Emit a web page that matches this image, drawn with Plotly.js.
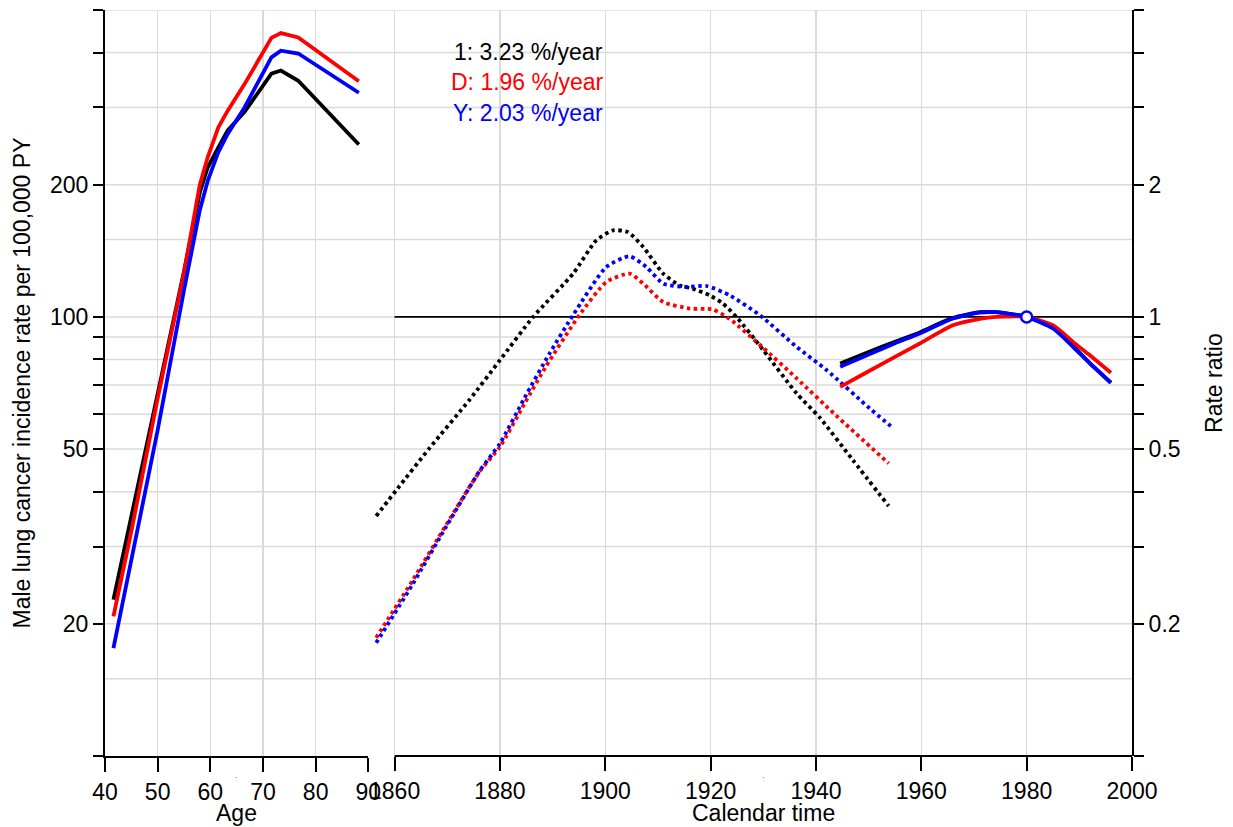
<!DOCTYPE html>
<html>
<head>
<meta charset="utf-8">
<script src="https://cdn.plot.ly/plotly-3.0.1.min.js"></script>
<style>html,body{margin:0;padding:0;background:#fff;}#chart{width:1233px;height:827px;}</style>
</head>
<body>
<div id="chart"></div>
<script>
// ---------- data ----------
const ages      = [41.6, 45, 50, 55, 58, 59.5, 61.5, 63.3, 66.5, 71.6, 73.4, 76.7, 88.2];
const ageRate1  = [22.7, 35.1, 66.3, 127, 192, 219, 243, 266, 293, 358, 364, 345, 247];
const ageRateD  = [20.8, 32.5, 65.2, 126, 200, 231, 270, 295, 339, 432, 443, 433, 344];
const ageRateY  = [17.6, 27.7, 55.2, 115, 175, 204, 237, 261, 300, 390, 404, 398, 324];

const perYears  = [1944.6, 1950, 1955, 1959.7, 1966, 1971.1, 1974.2, 1980, 1985, 1988.8, 1992, 1996];
const perRR1    = [0.783, 0.832, 0.878, 0.922, 0.995, 1.025, 1.025, 1.0, 0.945, 0.858, 0.785, 0.708];
const perRRD    = [0.693, 0.752, 0.811, 0.870, 0.957, 0.990, 1.000, 1.0, 0.957, 0.877, 0.818, 0.746];
const perRRY    = [0.770, 0.821, 0.871, 0.917, 0.992, 1.023, 1.025, 1.0, 0.941, 0.855, 0.784, 0.708];

const cohYears1 = [1856.5, 1860.6, 1866.6, 1874.2, 1880, 1886.3, 1893.9, 1898.3, 1901.5, 1904.3, 1907.2, 1911.0, 1914.1, 1916.6, 1919.8, 1922.3, 1924.9, 1930.0, 1936.3, 1940.7, 1947.0, 1953.8];
const cohRR1    = [0.352, 0.407, 0.502, 0.647, 0.797, 1.0, 1.255, 1.494, 1.575, 1.56, 1.443, 1.255, 1.180, 1.160, 1.120, 1.073, 1.0, 0.840, 0.670, 0.590, 0.472, 0.371];
const cohYearsD = [1856.5, 1863.5, 1869.8, 1876.1, 1880, 1884.7, 1888.7, 1895.1, 1900.2, 1904.6, 1907.2, 1911.0, 1916.1, 1920.4, 1923.6, 1930, 1936.3, 1943.9, 1953.8];
const cohRRD    = [0.186, 0.252, 0.336, 0.444, 0.506, 0.636, 0.770, 1.01, 1.201, 1.255, 1.191, 1.081, 1.045, 1.04, 0.99, 0.850, 0.725, 0.595, 0.464];
const cohYearsY = [1856.5, 1863.5, 1869.8, 1876.1, 1880, 1884.7, 1889.4, 1893.9, 1900.2, 1904.6, 1907.8, 1911.0, 1915.4, 1919.2, 1923.6, 1929.3, 1936.3, 1942, 1950.2, 1954.2];
const cohRRY    = [0.181, 0.247, 0.333, 0.445, 0.515, 0.655, 0.825, 1.01, 1.299, 1.374, 1.299, 1.191, 1.170, 1.176, 1.120, 1.01, 0.855, 0.757, 0.619, 0.564];

const refYear = [1980];
const refRR   = [1];

const ageTicks = [40, 50, 60, 70, 80, 90];
const calTicks = [1860, 1880, 1900, 1920, 1940, 1960, 1980, 2000];
const rateTickVals = [10, 20, 30, 40, 50, 60, 70, 80, 90, 100, 200, 300, 400, 500];
const rateTickText = ['', '20', '', '', '50', '', '', '', '', '100', '200', '', '', ''];
const rrTickVals = [0.1, 0.2, 0.3, 0.4, 0.5, 0.6, 0.7, 0.8, 0.9, 1, 2, 3, 4, 5];
const rrTickText = ['', '0.2', '', '', '0.5', '', '', '', '', '1', '2', '', '', ''];
const hGrid = [15, 20, 30, 40, 50, 60, 70, 80, 90, 100, 150, 200, 300, 400, 500];

const labels = ['1: 3.23 %/year', 'D: 1.96 %/year', 'Y: 2.03 %/year'];
const cols = ['#000000', '#ff0000', '#0000ff'];

// ---------- traces ----------
const FONT = 'Liberation Sans, Arial, sans-serif';
const traces = [];
[ageRate1, ageRateD, ageRateY].forEach((v, i) => traces.push({
  x: ages, y: v, xaxis: 'x', yaxis: 'y', mode: 'lines', type: 'scatter',
  line: {color: cols[i], width: 3.8}, hoverinfo: 'skip', showlegend: false
}));
[[cohYears1, cohRR1], [cohYearsD, cohRRD], [cohYearsY, cohRRY]].forEach((p, i) => traces.push({
  x: p[0], y: p[1], xaxis: 'x2', yaxis: 'y2', mode: 'lines', type: 'scatter',
  line: {color: cols[i], width: 3.8, dash: '3.5px,3.5px', shape: 'spline', smoothing: 0.6}, hoverinfo: 'skip', showlegend: false
}));
[perRR1, perRRD, perRRY].forEach((v, i) => traces.push({
  x: perYears, y: v, xaxis: 'x2', yaxis: 'y2', mode: 'lines', type: 'scatter',
  line: {color: cols[i], width: 3.8, shape: 'spline', smoothing: 0.6}, hoverinfo: 'skip', showlegend: false
}));
traces.push({
  x: refYear, y: refRR, xaxis: 'x2', yaxis: 'y2', mode: 'markers', type: 'scatter',
  marker: {symbol: 'circle', size: 11, color: '#ffffff', line: {color: '#0000ff', width: 2.5}},
  hoverinfo: 'skip', showlegend: false
});

// ---------- layout ----------
const L = 105, R = 101;
const ageDomEnd = 0.2564;
const calDomStart = 0.2589;

const shapes = hGrid.map(v => ({
  type: 'line', xref: 'paper', x0: 0, x1: 1, yref: 'y', y0: v, y1: v,
  line: {color: '#dadada', width: 1.5}, layer: 'below'
}));
shapes.push({type: 'line', xref: 'x2', x0: 1860, x1: 2000, yref: 'y2', y0: 1, y1: 1,
  line: {color: '#000', width: 1.6}, layer: 'between'});
shapes.push({type: 'line', xref: 'x2', x0: 1860, x1: 2000, yref: 'paper', y0: 0, y1: 0,
  line: {color: '#000', width: 2}, layer: 'above'});

const axFont = {family: FONT, size: 23, color: '#000'};
const common = {
  showline: true, linecolor: '#000', linewidth: 2, ticks: 'outside', tickcolor: '#000', tickwidth: 2,
  zeroline: false, tickfont: axFont, fixedrange: true
};

const annotations = labels.map((t, i) => ({
  xref: 'x2', x: 1900, xanchor: 'right', yref: 'paper', y: [0.9437, 0.9035, 0.862][i], yanchor: 'middle',
  text: t, showarrow: false, font: {family: FONT, size: 23, color: cols[i]}
}));
annotations.push({xref: 'x', x: 65, yref: 'paper', y: -0.037, text: '·', showarrow: false, font: {family: FONT, size: 8, color: '#000'}});
annotations.push({xref: 'x2', x: 1930, yref: 'paper', y: -0.037, text: '·', showarrow: false, font: {family: FONT, size: 8, color: '#000'}});
annotations.push({xref: 'paper', x: 1.0798, xanchor: 'center', yref: 'paper', y: 0.5, yanchor: 'middle',
  text: 'Rate ratio', textangle: -90, showarrow: false, font: axFont});
annotations.push({xref: 'x', x: 65, xanchor: 'center', yref: 'paper', y: -0.0956, yanchor: 'bottom', borderpad: 0,
  text: 'Age', showarrow: false, font: axFont});
annotations.push({xref: 'x2', x: 1930, xanchor: 'center', yref: 'paper', y: -0.0956, yanchor: 'bottom', borderpad: 0,
  text: 'Calendar time', showarrow: false, font: axFont});

const layout = {
  width: 1233, height: 827,
  margin: {l: L, r: R, t: 10, b: 71},
  paper_bgcolor: '#ffffff', plot_bgcolor: 'rgba(0,0,0,0)',
  showlegend: false,
  font: {family: FONT, size: 23, color: '#000'},
  xaxis: Object.assign({}, common, {
    domain: [0, ageDomEnd], range: [40, 90], tickmode: 'array', tickvals: ageTicks, ticktext: ageTicks.map(String),
    ticklen: 14, showgrid: true, gridcolor: '#dadada', gridwidth: 1.5, anchor: 'y'
  }),
  xaxis2: Object.assign({}, common, {
    domain: [calDomStart, 1], range: [1855.5, 2000], tickmode: 'array', tickvals: calTicks, ticktext: calTicks.map(String),
    ticklen: 14, showline: false, showgrid: true, gridcolor: '#dadada', gridwidth: 1.5, anchor: 'y2'
  }),
  yaxis: Object.assign({}, common, {
    type: 'log', range: [1, Math.log10(500)], domain: [0, 1], anchor: 'x', side: 'left',
    tickmode: 'array', tickvals: rateTickVals, ticktext: rateTickText, ticklen: 10, showgrid: false,
    title: {text: 'Male lung cancer incidence rate per 100,000 PY', font: axFont, standoff: 13}
  }),
  yaxis2: Object.assign({}, common, {
    type: 'log', range: [-1, Math.log10(5)], domain: [0, 1], anchor: 'x2', side: 'right',
    tickmode: 'array', tickvals: rrTickVals, ticktext: rrTickText, ticklen: 10, showgrid: false
  }),
  shapes: shapes,
  annotations: annotations
};

Plotly.newPlot('chart', traces, layout, {staticPlot: true, displayModeBar: false});
</script>
</body>
</html>
